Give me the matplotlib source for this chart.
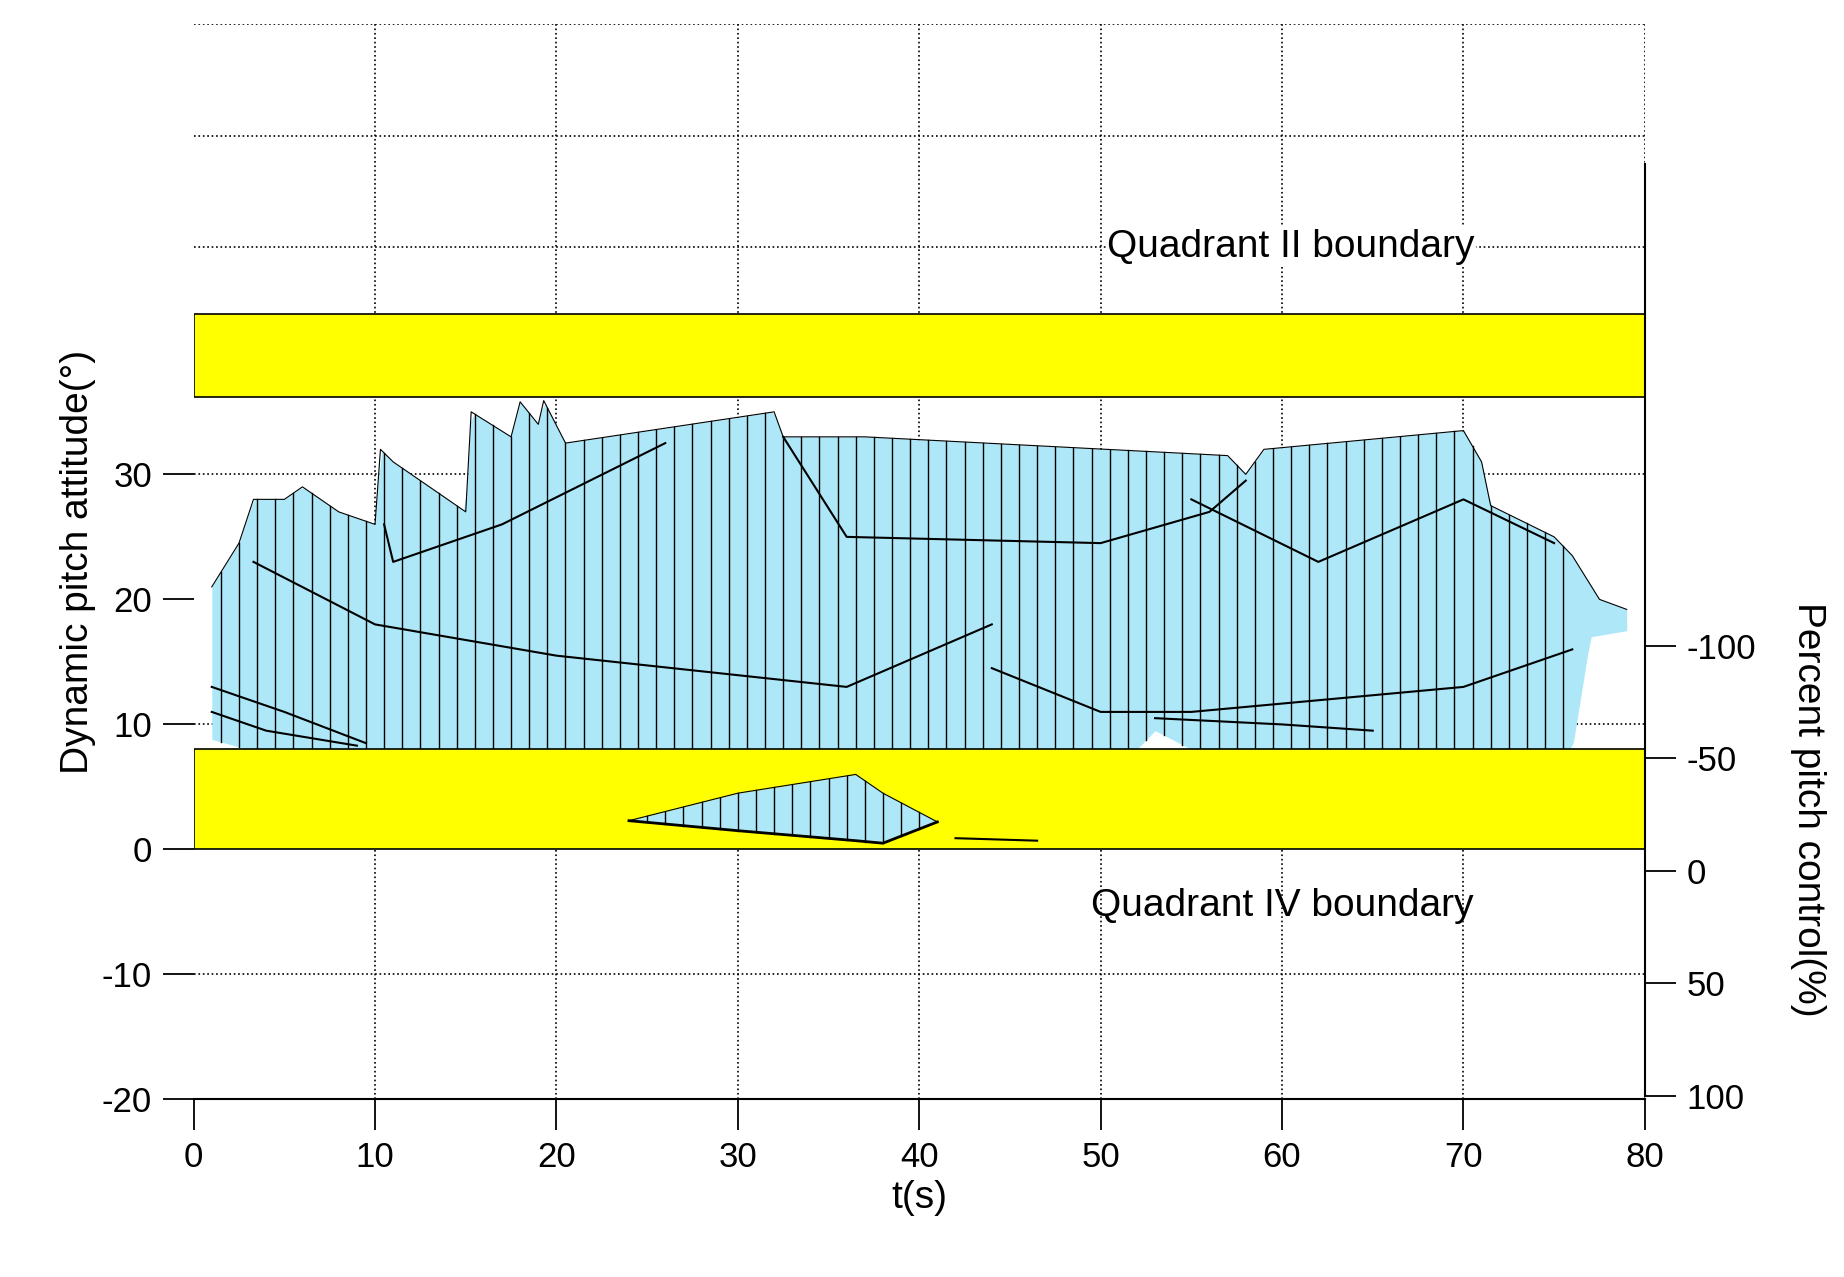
import numpy as np
import matplotlib.pyplot as plt

plt.rcParams['font.family'] = ['Liberation Sans', 'DejaVu Sans']
plt.rcParams['axes.unicode_minus'] = False

# upper envelope of the attitude cloud
top_t = [1, 2.5, 3.3, 5, 6, 8, 10, 10.3, 11, 15, 15.3, 17.5, 18, 19, 19.3, 20.5,
         32, 32.5, 37, 57, 58, 59, 70, 71, 71.5, 75, 76, 77.5, 79]
top_v = [21, 24.5, 28, 28, 29, 27, 26, 32, 31, 27, 35, 33, 35.8, 34, 35.9, 32.5,
         35, 33, 33, 31.5, 30, 32, 33.5, 31, 27.5, 25, 23.5, 20, 19.2]
bot_t = [1, 3, 10, 20, 50, 52, 53, 55, 72, 76, 77, 79]
bot_v = [8.8, 8, 8, 8, 8, 8, 9.5, 8, 8, 8, 17, 17.5]
# small patch in the lower band
tri_t = [24, 30, 36.5, 38, 41]
tri_top = [2.3, 4.5, 6, 4.5, 2.2]
tri_bot = [2.3, 1.5, 0.7, 0.5, 2.2]
# a few internal traces
traces = [
    ([3.3, 10, 20, 36, 44], [23, 18, 15.5, 13, 18]),
    ([1, 5, 9.5], [13, 11, 8.5]),
    ([1, 4, 9], [11, 9.5, 8.3]),
    ([32.5, 36, 50, 56, 58], [33, 25, 24.5, 27, 29.5]),
    ([10.5, 11, 17, 26], [26, 23, 26, 32.5]),
    ([44, 50, 55, 70, 76], [14.5, 11, 11, 13, 16]),
    ([55, 62, 70, 75], [28, 23, 28, 24.5]),
    ([53, 60, 65], [10.5, 10, 9.5]),
]
left_ticks = [-20, -10, 0, 10, 20, 30]
right_ticks = [-100, -50, 0, 50, 100]
x_ticks = [0, 10, 20, 30, 40, 50, 60, 70, 80]

fig = plt.figure(figsize=(18.44, 12.77), dpi=100)
ax = fig.add_axes([0.105, 0.139, 0.787, 0.842])
ax.set_xlim(0, 80)
ax.set_ylim(-20, 66)

# grid (upper part is spaced a bit differently in the original)
for v in [-10, 10, 30, 39.8, 48.2, 57.1, 66]:
    ax.axhline(v, color='black', ls=':', lw=1.2, zorder=0)
for v in x_ticks[1:]:
    ax.axvline(v, color='black', ls=':', lw=1.2, zorder=0)

blue = '#aee8f8'
tt = np.linspace(1, 79, 400)
up = np.interp(tt, top_t, top_v)
lo = np.interp(tt, bot_t, bot_v)
ax.fill_between(tt, lo, up, color=blue, lw=0, zorder=2)
ax.plot(top_t, top_v, color='black', lw=0.8, zorder=3)
for xv in np.arange(1.5, 76.5, 1.0):
    ax.plot([xv, xv], [np.interp(xv, bot_t, bot_v), np.interp(xv, top_t, top_v)],
            color='black', lw=1.0, zorder=3)
for xs, ys in traces:
    ax.plot(xs, ys, color='black', lw=1.5, zorder=3)

ax.fill_between([0, 80.3], 36.2, 42.8, color='yellow', ec='black', lw=1.2, zorder=4)
ax.fill_between([0, 80.3], 0, 8.05, color='yellow', ec='black', lw=1.2, zorder=4)

tt2 = np.linspace(24, 41, 100)
ax.fill_between(tt2, np.interp(tt2, tri_t, tri_bot), np.interp(tt2, tri_t, tri_top),
                color=blue, lw=0, zorder=5)
ax.plot(tri_t, tri_top, color='black', lw=0.8, zorder=6)
ax.plot(tri_t, tri_bot, color='black', lw=2, zorder=6)
for xv in np.arange(25, 41, 1.0):
    ax.plot([xv, xv], [np.interp(xv, tri_t, tri_bot), np.interp(xv, tri_t, tri_top)],
            color='black', lw=1.0, zorder=6)
ax.plot([42, 46.5], [0.9, 0.7], color='black', lw=1.5, zorder=6)

ax.text(60.5, 48.2, 'Quadrant II boundary', fontsize=28, ha='center', va='center',
        bbox=dict(fc='white', ec='none', pad=1), zorder=7)
ax.text(60, -4.5, 'Quadrant IV boundary', fontsize=28, ha='center', va='center', zorder=7)

for s in ['top', 'left', 'right']:
    ax.spines[s].set_visible(False)
ax.spines['bottom'].set_linewidth(1.5)
ax.set_yticks(left_ticks)
ax.set_xticks(x_ticks)
ax.tick_params(labelsize=25, length=22, width=1.3, direction='out', pad=8)
ax.set_xlabel('t(s)', fontsize=28)
ax.set_ylabel('Dynamic pitch attitude(°)', fontsize=28)

# right axis: percent pitch control, inverted
ax2 = ax.twinx()
ax2.set_ylim(101.6, -376)
ax2.set_yticks(right_ticks)
ax2.spines['right'].set_bounds(100, -314)
ax2.spines['right'].set_linewidth(1.5)
for s in ['top', 'left', 'bottom']:
    ax2.spines[s].set_visible(False)
ax2.tick_params(labelsize=25, length=22, width=1.3, pad=8)
ax2.set_ylabel('Percent pitch control(%)', fontsize=28, rotation=270)
ax2.yaxis.set_label_coords(1.125, 0.27)

fig.savefig('out.png', dpi=100)
